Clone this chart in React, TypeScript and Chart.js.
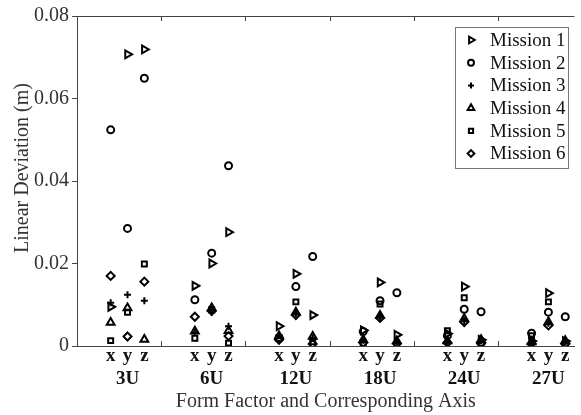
import React, { useEffect, useRef } from 'react';
import { Chart, registerables } from 'chart.js';
import { drawPoint } from 'chart.js/helpers';

Chart.register(...registerables);

const groups = ['3U', '6U', '12U', '18U', '24U', '27U'];
const axisLabels = ['x', 'y', 'z'];
const axisOffsets = [0.4, 0.6, 0.8];
const yTicks = [0, 0.02, 0.04, 0.06, 0.08];
const yTitle = 'Linear Deviation (m)';
const xTitle = 'Form Factor and Corresponding Axis';

// values ordered: 3U x,y,z, 6U x,y,z, ... 27U x,y,z
const mission1 = [0.0095, 0.0707, 0.0719, 0.0146, 0.020, 0.0276, 0.0048, 0.0175, 0.0075, 0.0038, 0.0154, 0.0027, 0.0030, 0.0144, 0.0015, 0.0012, 0.0128, 0.0012];
const mission2 = [0.0524, 0.0285, 0.0649, 0.0112, 0.0225, 0.0437, 0.0020, 0.0144, 0.0217, 0.0035, 0.0110, 0.0129, 0.0025, 0.0089, 0.0083, 0.0031, 0.0082, 0.0071];
const mission3 = [0.0105, 0.0124, 0.0110, 0.0033, 0.0082, 0.0048, 0.0026, 0.0078, 0.0020, 0.0014, 0.0070, 0.0010, 0.0010, 0.0060, 0.0012, 0.0008, 0.0055, 0.0010];
const mission4 = [0.0057, 0.0092, 0.0016, 0.0036, 0.0092, 0.0037, 0.0024, 0.0082, 0.0023, 0.0015, 0.0074, 0.0012, 0.0012, 0.0066, 0.0015, 0.0010, 0.0058, 0.0013];
const mission5 = [0.0013, 0.0082, 0.0199, 0.0019, 0.0088, 0.0007, 0.0018, 0.0107, 0.0010, 0.0005, 0.0102, 0.0004, 0.0037, 0.0117, 0.0006, 0.0025, 0.0107, 0.0005];
const mission6 = [0.0170, 0.0023, 0.0156, 0.0071, 0.0085, 0.0024, 0.0015, 0.0075, 0.0005, 0.0008, 0.0068, 0.0006, 0.0008, 0.0058, 0.0006, 0.0006, 0.0050, 0.0005];

const seriesLabels = ['Mission 1', 'Mission 2', 'Mission 3', 'Mission 4', 'Mission 5', 'Mission 6'];
const seriesValues = [mission1, mission2, mission3, mission4, mission5, mission6];

const FONT = "'Liberation Serif', 'Times New Roman', serif";

const markerStyles = [
  { pointStyle: 'triangle', rotation: 90, radius: 4.5 },
  { pointStyle: 'circle', rotation: 0, radius: 3.5 },
  { pointStyle: 'cross', rotation: 0, radius: 3.5 },
  { pointStyle: 'triangle', rotation: 0, radius: 4.5 },
  { pointStyle: 'rect', rotation: 0, radius: 3.5 },
  { pointStyle: 'rectRot', rotation: 0, radius: 4 },
];

function toPoints(values: number[]) {
  const pts: { x: number; y: number }[] = [];
  groups.forEach((_, gi) => {
    axisOffsets.forEach((off, ai) => {
      pts.push({ x: gi + off, y: values[gi * 3 + ai] });
    });
  });
  return pts;
}

const framePlugin = {
  id: 'frameAndLabels',
  afterDraw(chart: any) {
    const { ctx, chartArea: ca, scales } = chart;
    const xs = scales.x;
    ctx.save();
    // top border + inward x ticks
    ctx.strokeStyle = '#444';
    ctx.lineWidth = 1;
    ctx.beginPath();
    ctx.moveTo(ca.left, Math.round(ca.top) + 0.5);
    ctx.lineTo(ca.right, Math.round(ca.top) + 0.5);
    xs.ticks.forEach((t: any) => {
      if (t.value <= xs.min || t.value >= xs.max) return;
      const px = Math.round(xs.getPixelForValue(t.value)) + 0.5;
      ctx.moveTo(px, ca.top);
      ctx.lineTo(px, ca.top + 5);
      ctx.moveTo(px, ca.bottom);
      ctx.lineTo(px, ca.bottom - 5);
    });
    ctx.stroke();

    // y axis title
    ctx.fillStyle = '#333';
    ctx.font = `20px ${FONT}`;
    ctx.textAlign = 'center';
    ctx.textBaseline = 'middle';
    ctx.save();
    ctx.translate(23, (ca.top + ca.bottom) / 2 - 13);
    ctx.rotate(-Math.PI / 2);
    ctx.fillText(yTitle, 0, 0);
    ctx.restore();

    // axis letters and group labels
    ctx.fillStyle = '#111';
    ctx.textAlign = 'center';
    ctx.textBaseline = 'middle';
    ctx.font = `bold 19px ${FONT}`;
    groups.forEach((g, gi) => {
      axisLabels.forEach((a, ai) => {
        ctx.fillText(a, xs.getPixelForValue(gi + axisOffsets[ai]), ca.bottom + 10);
      });
      ctx.fillText(g, xs.getPixelForValue(gi + axisOffsets[1]), ca.bottom + 33);
    });

    // legend
    const lw = 113;
    const lh = 141;
    const lx = Math.round(ca.right - 7 - lw);
    const ly = Math.round(ca.top + 11);
    ctx.fillStyle = '#fff';
    ctx.fillRect(lx, ly, lw, lh);
    ctx.strokeStyle = '#777';
    ctx.lineWidth = 1;
    ctx.strokeRect(lx + 0.5, ly + 0.5, lw, lh);
    ctx.font = `19px ${FONT}`;
    ctx.textAlign = 'left';
    chart.data.datasets.forEach((ds: any, i: number) => {
      const cy = ly + 13 + i * 22.7;
      ctx.strokeStyle = '#000';
      ctx.fillStyle = 'rgba(0,0,0,0)';
      ctx.lineWidth = 2;
      drawPoint(ctx, { pointStyle: ds.pointStyle, rotation: ds.pointRotation, radius: ds.pointRadius * 0.85, borderWidth: 2 } as any, lx + 16, cy);
      ctx.fillStyle = '#111';
      ctx.fillText(ds.label, lx + 35, cy + 1);
    });
    ctx.restore();
  },
};

export default function App() {
  const ref = useRef<HTMLCanvasElement | null>(null);
  useEffect(() => {
    document.body.style.margin = '0';
    if (!ref.current) return;
    const datasets = seriesLabels.map((label, i) => ({
      label,
      data: toPoints(seriesValues[i]),
      pointStyle: markerStyles[i].pointStyle,
      pointRotation: markerStyles[i].rotation,
      pointRadius: markerStyles[i].radius,
      pointHoverRadius: markerStyles[i].radius,
      pointBorderWidth: 2,
      borderColor: '#000',
      backgroundColor: 'rgba(0,0,0,0)',
      showLine: false,
    }));
    const chart = new Chart(ref.current, {
      type: 'scatter',
      data: { datasets } as any,
      options: {
        animation: false,
        responsive: false,
        events: [],
        layout: { padding: { top: 16, right: 0, left: 0, bottom: 0 } },
        plugins: { legend: { display: false }, tooltip: { enabled: false } },
        scales: {
          x: {
            type: 'linear',
            min: 0,
            max: 5.91,
            afterBuildTicks: (s: any) => {
              s.ticks = [0, 1, 2, 3, 4, 5].map((v) => ({ value: v }));
            },
            afterFit: (s: any) => {
              s.height = 69;
            },
            ticks: { display: false },
            grid: { drawOnChartArea: false, drawTicks: false },
            border: { display: true, color: '#444', width: 1 },
            title: {
              display: true,
              text: xTitle,
              color: '#333',
              font: { family: FONT, size: 20 },
              padding: { top: 0, bottom: 1 },
            },
          },
          y: {
            type: 'linear',
            min: 0,
            max: 0.08,
            afterBuildTicks: (s: any) => {
              s.ticks = yTicks.map((v) => ({ value: v }));
            },
            afterFit: (s: any) => {
              s.width = 77;
            },
            ticks: {
              color: '#333',
              font: { family: FONT, size: 20 },
              padding: 3,
              callback: (v: any) => (Number(v) === 0 ? '0' : Number(v).toFixed(2)),
            },
            grid: { drawOnChartArea: false, drawTicks: true, tickLength: 5, color: '#444' },
            border: { display: true, color: '#444', width: 1 },
            title: { display: false },
          },
        },
      },
      plugins: [framePlugin],
    } as any);
    return () => chart.destroy();
  }, []);
  return (
    <div style={{ width: 581, height: 415 }}>
      <canvas ref={ref} width={581} height={415} />
    </div>
  );
}
